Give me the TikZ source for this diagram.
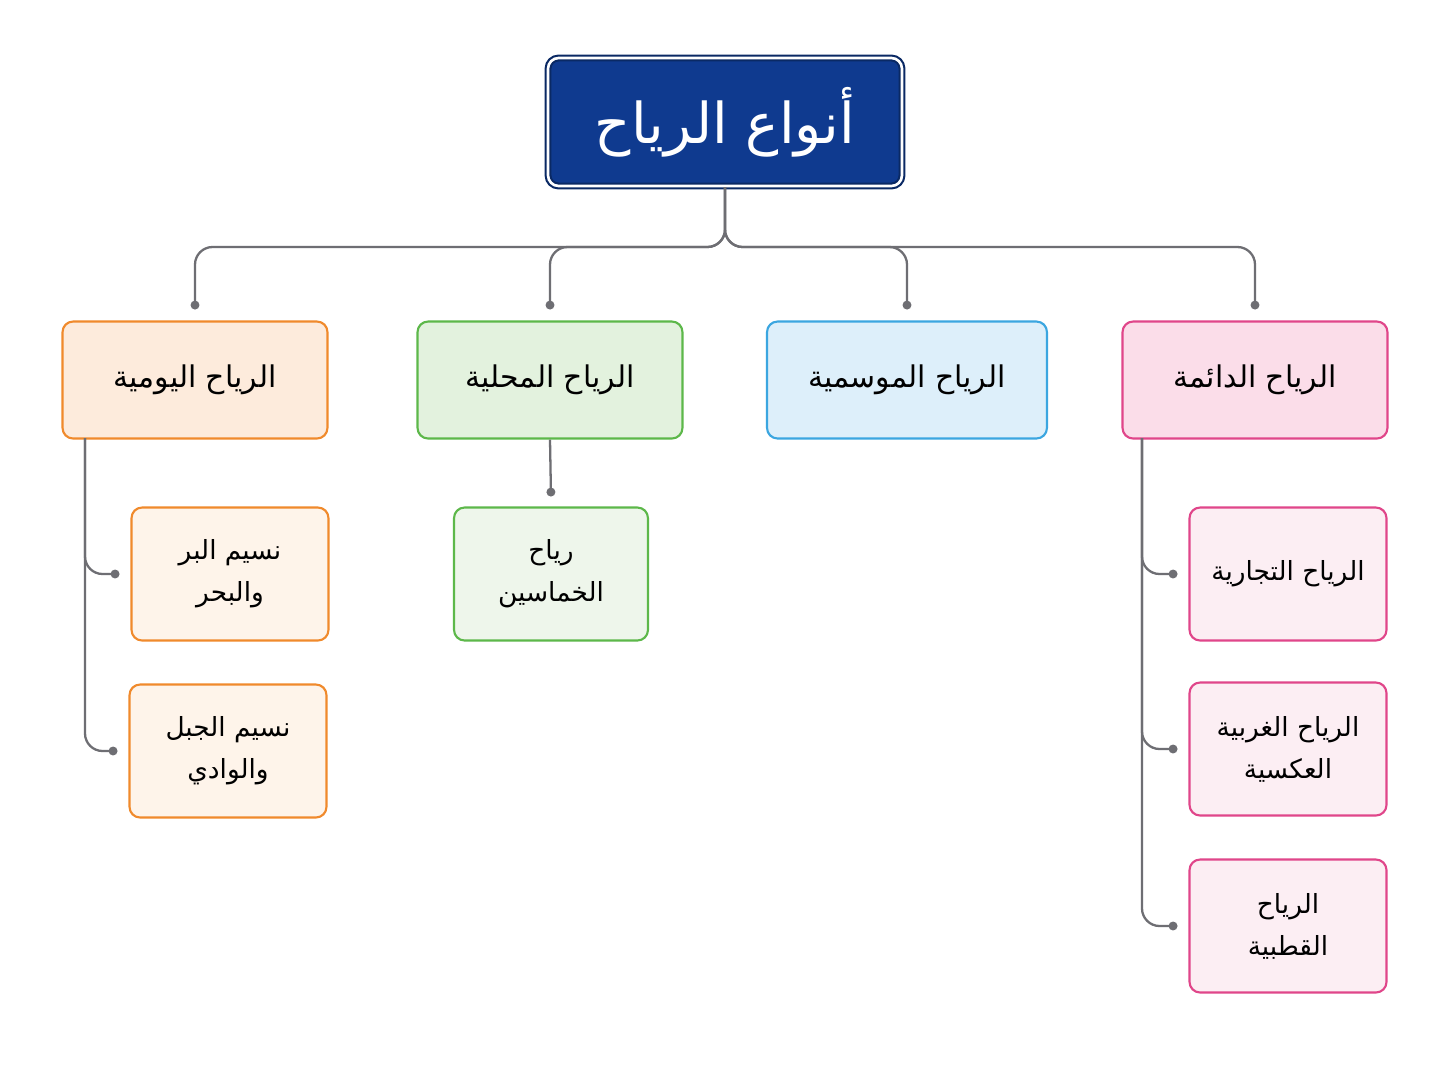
\documentclass[tikz,border=0pt]{standalone}
\usepackage{fontspec}
\newfontfamily\arfont[Script=Arabic]{DejaVu Sans}
\usetikzlibrary{arrows.meta}
\TeXXeTstate=1
\newcommand{\ar}[1]{{\arfont\beginR #1\endR}}
\definecolor{rootblue}{HTML}{0F3A8F}
\definecolor{orline}{HTML}{F08A2C}\definecolor{orfill}{HTML}{FDEBDC}\definecolor{orlite}{HTML}{FEF4EA}
\definecolor{grline}{HTML}{5DB84A}\definecolor{grfill}{HTML}{E3F2DE}\definecolor{grlite}{HTML}{EEF6EB}
\definecolor{blline}{HTML}{3BA6E0}\definecolor{blfill}{HTML}{DDEFFA}
\definecolor{pkline}{HTML}{E0468A}\definecolor{pkfill}{HTML}{FBDDE9}\definecolor{pklite}{HTML}{FCEEF3}
\definecolor{connc}{HTML}{6E6E73}
\tikzset{
  box/.style={draw, line width=1.2pt, rounded corners=6pt, align=center, inner sep=2pt},
  cat/.style={box, minimum width=5.3cm, minimum height=2.34cm, font=\fontsize{17}{20}\selectfont},
  sub/.style={box, minimum width=3.94cm, minimum height=2.66cm, font=\fontsize{15}{24}\selectfont},
  conn/.style={draw=connc, line width=1.3pt, rounded corners=10pt, -{Circle[length=5pt]}}
}
\begin{document}
\begin{tikzpicture}[x=0.02cm,y=-0.02cm]
\useasboundingbox[fill=white] (0,0) rectangle (1448,1086);
\node[box, draw=rootblue!70!black, fill=rootblue, double=white, double distance=1.5pt, text=white,
  minimum width=7.08cm, minimum height=2.56cm, font=\fontsize{32}{36}\selectfont] (root) at (725,122) {\ar{أنواع الرياح}};
\node[cat, draw=orline, fill=orfill] (daily) at (195,380) {\ar{الرياح اليومية}};
\node[cat, draw=grline, fill=grfill] (local) at (550,380) {\ar{الرياح المحلية}};
\node[cat, draw=blline, fill=blfill, minimum width=5.6cm] (season) at (907,380) {\ar{الرياح الموسمية}};
\node[cat, draw=pkline, fill=pkfill] (perm) at (1255,380) {\ar{الرياح الدائمة}};
\node[sub, draw=orline, fill=orlite] (sea) at (230,574) {\ar{نسيم البر}\\\ar{والبحر}};
\node[sub, draw=orline, fill=orlite] (mount) at (228,751) {\ar{نسيم الجبل}\\\ar{والوادي}};
\node[sub, draw=grline, fill=grlite, minimum width=3.88cm] (khams) at (551,574) {\ar{رياح}\\\ar{الخماسين}};
\node[sub, draw=pkline, fill=pklite] (trade) at (1288,574) {\ar{الرياح التجارية}};
\node[sub, draw=pkline, fill=pklite] (west) at (1288,749) {\ar{الرياح الغربية}\\\ar{العكسية}};
\node[sub, draw=pkline, fill=pklite] (polar) at (1288,926) {\ar{الرياح}\\\ar{القطبية}};
\coordinate (bar) at (725,247);
\foreach \n in {daily,local,season,perm}
  \draw[conn] (root.south) -- (root.south |- bar) -| ([yshift=0.22cm]\n.north);
\draw[conn] (local.south) -- ([yshift=0.2cm]khams.north);
\foreach \n in {sea,mount}
  \draw[conn] (85,438) |- ([xshift=-0.22cm]\n.west);
\foreach \n in {trade,west,polar}
  \draw[conn] (1142,438) |- ([xshift=-0.22cm]\n.west);
\end{tikzpicture}
\end{document}
